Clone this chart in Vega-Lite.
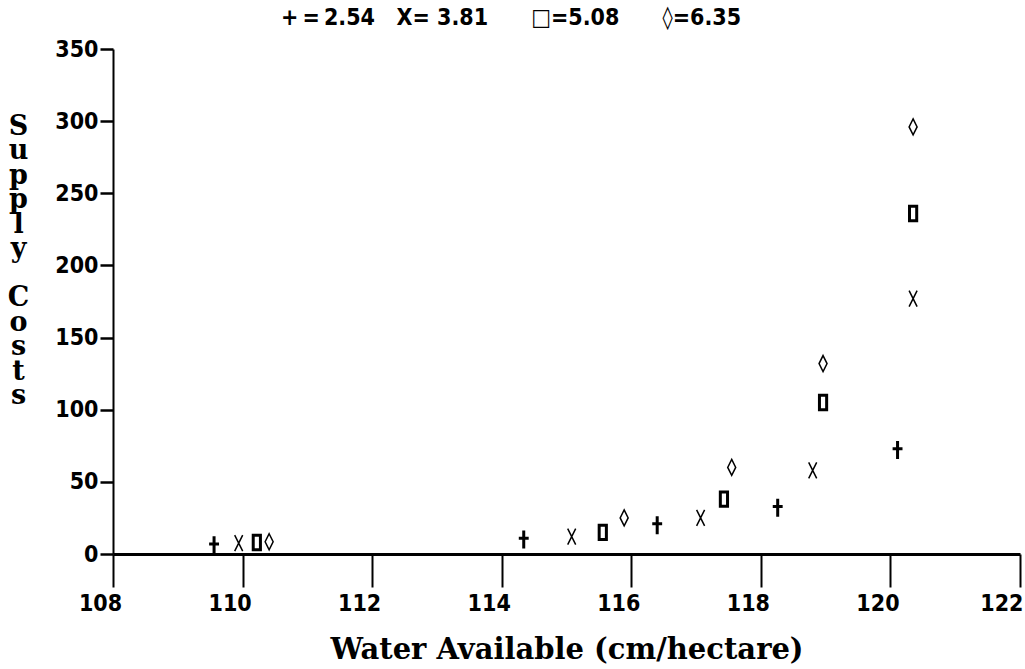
{
  "$schema": "https://vega.github.io/schema/vega-lite/v6.json",
  "width": 907,
  "height": 505,
  "autosize": "none",
  "padding": {"left": 113, "top": 49, "right": 5, "bottom": 115},
  "background": "white",
  "config": {"view": {"stroke": null}},
  "title": {
    "text": "+\u2009=\u20092.54\u00a0\u00a0\u00a0X= 3.81\u00a0\u00a0\u00a0\u00a0\u00a0\u00a0□=5.08\u00a0\u00a0\u00a0\u00a0\u00a0\u00a0◊=6.35",
    "anchor": "start",
    "frame": "group",
    "dx": 168,
    "offset": 8,
    "font": "DejaVu Sans Condensed, sans-serif",
    "fontSize": 23,
    "fontWeight": "bold",
    "color": "black"
  },
  "data": {
    "values": [
      {"series": "2.54", "water": 109.56, "cost": 6},
      {"series": "2.54", "water": 114.34, "cost": 10},
      {"series": "2.54", "water": 116.40, "cost": 20},
      {"series": "2.54", "water": 118.26, "cost": 32},
      {"series": "2.54", "water": 120.11, "cost": 72},
      {"series": "3.81", "water": 109.94, "cost": 7.5},
      {"series": "3.81", "water": 115.08, "cost": 12},
      {"series": "3.81", "water": 117.07, "cost": 25},
      {"series": "3.81", "water": 118.80, "cost": 58},
      {"series": "3.81", "water": 120.35, "cost": 177},
      {"series": "5.08", "water": 110.22, "cost": 8},
      {"series": "5.08", "water": 115.56, "cost": 15},
      {"series": "5.08", "water": 117.43, "cost": 38},
      {"series": "5.08", "water": 118.96, "cost": 105},
      {"series": "5.08", "water": 120.35, "cost": 236},
      {"series": "6.35", "water": 110.41, "cost": 8.5},
      {"series": "6.35", "water": 115.89, "cost": 25},
      {"series": "6.35", "water": 117.55, "cost": 60},
      {"series": "6.35", "water": 118.96, "cost": 132},
      {"series": "6.35", "water": 120.35, "cost": 296}
    ]
  },
  "encoding": {
    "x": {
      "field": "water",
      "type": "quantitative",
      "scale": {"domain": [108, 122], "nice": false, "zero": false},
      "axis": {
        "values": [108, 110, 112, 114, 116, 118, 120, 122],
        "grid": false,
        "domainColor": "black",
        "domainWidth": 3,
        "tickColor": "black",
        "tickWidth": 2,
        "tickSize": 33,
        "labelPadding": 5,
        "labelOffset": {"condition": {"test": "datum.value === 122", "value": 3}, "value": -13},
        "labelAlign": {"condition": {"test": "datum.value === 122", "value": "right"}, "value": "center"},
        "labelFont": "DejaVu Sans Condensed, sans-serif",
        "labelFontSize": 23,
        "labelFontWeight": "bold",
        "labelColor": "black",
        "labelBaseline": "top",
        "labelFlush": false,
        "title": "Water Available (cm/hectare)",
        "titleFont": "DejaVu Serif",
        "titleFontSize": 29,
        "titleFontWeight": "bold",
        "titleColor": "black",
        "titleBaseline": "alphabetic",
        "titleY": 104
      }
    },
    "y": {
      "field": "cost",
      "type": "quantitative",
      "scale": {"domain": [0, 350], "nice": false},
      "axis": {
        "values": [0, 50, 100, 150, 200, 250, 300, 350],
        "grid": false,
        "domainColor": "black",
        "domainWidth": 2,
        "tickColor": "black",
        "tickWidth": 2.5,
        "tickSize": 13,
        "labelPadding": 2,
        "labelFont": "DejaVu Sans Condensed, sans-serif",
        "labelFontSize": 23,
        "labelFontWeight": "bold",
        "labelColor": "black",
        "labelBaseline": "middle",
        "labelFlush": false,
        "title": ["S", "u", "p", "p", "l", "y", "\u2800", "C", "o", "s", "t", "s"],
        "titleFont": "DejaVu Serif",
        "titleFontSize": 27,
        "titleFontWeight": "bold",
        "titleColor": "black",
        "titleAngle": 0,
        "titleAlign": "center",
        "titleBaseline": "top",
        "titleLineHeight": 24.5,
        "titleX": -95,
        "titleY": 64
      }
    }
  },
  "layer": [
    {
      "transform": [{"filter": "datum.series === '2.54'"}],
      "mark": {"type": "point", "shape": "M0,-1V1M-0.55,-0.15H0.55", "size": 324, "filled": false, "stroke": "black", "strokeWidth": 3, "opacity": 1}
    },
    {
      "transform": [{"filter": "datum.series === '3.81'"}],
      "mark": {"type": "point", "shape": "M-0.5,-1L0.5,1M0.5,-1L-0.5,1", "size": 256, "filled": false, "stroke": "black", "strokeWidth": 1.5, "opacity": 1}
    },
    {
      "transform": [{"filter": "datum.series === '5.08'"}],
      "mark": {"type": "point", "shape": "M-0.45,-0.9H0.45V0.9H-0.45Z", "size": 256, "filled": false, "stroke": "black", "strokeWidth": 3, "opacity": 1}
    },
    {
      "transform": [{"filter": "datum.series === '6.35'"}],
      "mark": {"type": "point", "shape": "M0,-1L0.5,0L0,1L-0.5,0Z", "size": 256, "filled": false, "stroke": "black", "strokeWidth": 1.5, "opacity": 1}
    }
  ]
}
